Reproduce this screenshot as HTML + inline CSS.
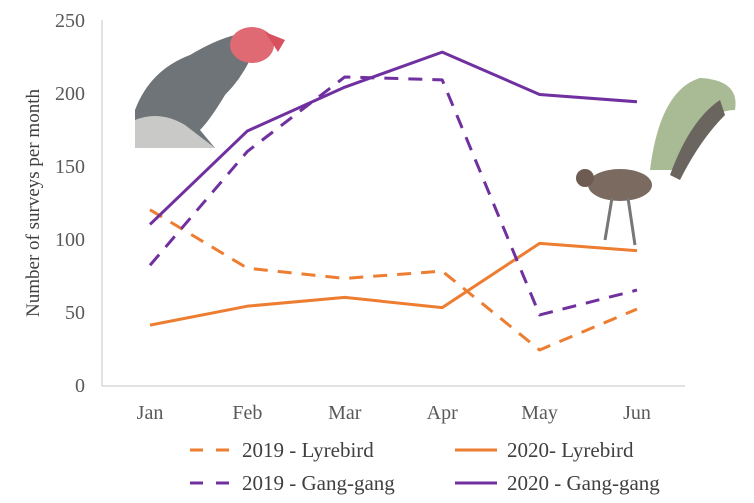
<!DOCTYPE html>
<html><head><meta charset="utf-8"><style>
body{margin:0;background:#fff;}
svg{display:block;font-family:"Liberation Serif",serif;}
</style></head><body>
<svg width="754" height="503">
<g>
<path d="M135 148 L135 110 Q150 70 190 55 Q215 40 235 35 L250 60 Q240 80 225 95 Q210 120 200 130 L215 148 Z" fill="#6f7478"/>
<path d="M135 148 L135 120 Q160 110 185 125 L215 148 Z" fill="#c9c9c7"/>
<ellipse cx="252" cy="45" rx="22" ry="18" fill="#e06a73"/>
<path d="M265 32 L285 40 L278 52 Z" fill="#d9505e"/>
</g>
<g>
<path d="M650 170 Q660 90 700 78 Q740 80 735 110 Q700 110 680 170 Z" fill="#a9bb95"/>
<path d="M670 175 Q690 120 720 100 L725 115 Q700 140 680 180 Z" fill="#6b6560"/>
<ellipse cx="620" cy="185" rx="32" ry="16" fill="#7a6a60"/>
<circle cx="585" cy="178" r="9" fill="#6e5c52"/>
<line x1="612" y1="198" x2="605" y2="240" stroke="#777" stroke-width="3"/>
<line x1="628" y1="198" x2="635" y2="245" stroke="#777" stroke-width="3"/>
</g>
<g id="axes"></g>
<g id="series"></g>
<g id="legend"></g>
</svg>
<script>
const months=["Jan","Feb","Mar","Apr","May","Jun"];
const yTicks=[0,50,100,150,200,250];
const lyre2019=[120,80,73,78,24,52];
const lyre2020=[41,54,60,53,97,92];
const gang2019=[82,160,211,209,48,65];
const gang2020=[110,174,204,228,199,194];
const NS="http://www.w3.org/2000/svg";
const x=i=>150+i*97.4;
const y=v=>385-v*1.46;
function mk(tag,attrs,parent,txt){const e=document.createElementNS(NS,tag);for(const k in attrs)e.setAttribute(k,attrs[k]);if(txt!==undefined)e.textContent=txt;parent.appendChild(e);return e;}
const ax=document.getElementById('axes');
let a=mk('line',{x1:102,y1:20,x2:102,y2:386,stroke:'#d0d0d0','stroke-width':1.2},ax);


a=mk('line',{x1:102,y1:386,x2:685,y2:386,stroke:'#d0d0d0','stroke-width':1.2},ax);


yTicks.forEach(v=>{const t=mk('text',{x:85,y:y(v)+7,'text-anchor':'end','font-size':20,fill:'#595959'},ax,v);

});
months.forEach((m,i)=>{const t=mk('text',{x:x(i),y:419,'text-anchor':'middle','font-size':20,fill:'#595959'},ax,m);

});
const yt=mk('text',{transform:'translate(39 203) rotate(-90)','text-anchor':'middle','font-size':19,fill:'#404040'},ax,'Number of surveys per month');


const ORANGE='#ed7d31',PURPLE='#7030a0';
const series=[
 {d:lyre2019,c:ORANGE,dash:'14 10',name:'2019 - Lyrebird',lx:190,ly:450},
 {d:lyre2020,c:ORANGE,dash:'',name:'2020- Lyrebird',lx:455,ly:450},
 {d:gang2019,c:PURPLE,dash:'14 10',name:'2019 - Gang-gang',lx:190,ly:483},
 {d:gang2020,c:PURPLE,dash:'',name:'2020 - Gang-gang',lx:455,ly:483}];
const sg=document.getElementById('series'),lg=document.getElementById('legend');
series.forEach(s=>{
 const p=mk('polyline',{points:s.d.map((v,i)=>x(i)+','+y(v)).join(' '),fill:'none',stroke:s.c,'stroke-width':3,'stroke-dasharray':s.dash,'stroke-linejoin':'round'},sg);
 
 
 const g=mk('g',{},lg);
 
 
 mk('line',{x1:s.lx,y1:s.ly,x2:s.lx+42,y2:s.ly,stroke:s.c,'stroke-width':3,'stroke-dasharray':s.dash?'13 13':''},g);
 mk('text',{x:s.lx+52,y:s.ly+7,'font-size':21,fill:'#404040'},g,s.name);
});
</script>
</body></html>
